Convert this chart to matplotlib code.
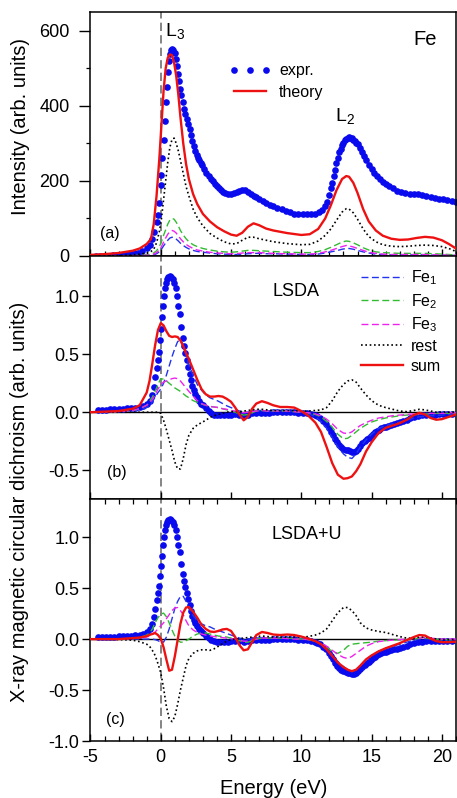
import matplotlib
matplotlib.use("Agg")
import matplotlib.pyplot as plt
from matplotlib.ticker import MultipleLocator

plt.rcParams["font.family"] = ["Liberation Sans", "DejaVu Sans"]
plt.rcParams["mathtext.fontset"] = "custom"
plt.rcParams["mathtext.rm"] = "Liberation Sans"
plt.rcParams["axes.unicode_minus"] = False

# ── (a) XAS: experiment ──
xas_exp_x = [-4.6, -4.3, -4.0, -3.7, -3.4, -3.1, -2.8, -2.5, -2.2, -1.9, -1.6, -1.3, -1.0, -0.8, -0.6,
             -0.45, -0.3, -0.2, -0.1, 0.0, 0.05, 0.12, 0.2, 0.28, 0.35, 0.42, 0.5, 0.58, 0.66, 0.74,
             0.82, 0.9, 0.98, 1.06, 1.14, 1.22, 1.3, 1.38, 1.46, 1.55, 1.65, 1.75, 1.85, 1.95, 2.05,
             2.15, 2.25, 2.35, 2.45, 2.55, 2.65, 2.75, 2.85, 2.95, 3.1, 3.25, 3.4, 3.55, 3.7, 3.85,
             4.0, 4.15, 4.3, 4.45, 4.6, 4.8, 5.0, 5.2, 5.4, 5.6, 5.8, 6.0, 6.2, 6.4, 6.6,
             6.8, 7.0, 7.25, 7.5, 7.75, 8.0, 8.3, 8.6, 8.9, 9.2, 9.5, 9.8, 10.1, 10.4, 10.7,
             11.0, 11.25, 11.5, 11.7, 11.85, 12.0, 12.1, 12.2, 12.3, 12.4, 12.5, 12.6, 12.7, 12.8, 12.9,
             13.0, 13.1, 13.2, 13.3, 13.4, 13.5, 13.6, 13.7, 13.8, 13.9, 14.0, 14.15, 14.3, 14.45, 14.6,
             14.8, 15.0, 15.2, 15.4, 15.6, 15.8, 16.0, 16.25, 16.5, 16.8, 17.1, 17.4, 17.7, 18.0, 18.3,
             18.6, 18.9, 19.2, 19.5, 19.8, 20.1, 20.4, 20.7, 21.0]
xas_exp_y = [0, 0, 1, 1, 2, 3, 3, 4, 5, 7, 9, 13, 20, 30, 45,
             65, 90, 110, 140, 190, 215, 260, 310, 360, 410, 450, 490, 520, 538, 548,
             552, 548, 540, 525, 505, 485, 465, 445, 428, 410, 392, 378, 365, 352, 338,
             322, 306, 292, 280, 270, 262, 255, 248, 242, 233, 222, 214, 206, 199, 192,
             187, 180, 175, 171, 167, 164, 164, 167, 171, 174, 176, 175, 171, 166, 161,
             157, 152, 147, 141, 137, 133, 128, 124, 119, 116, 113, 112, 112, 112, 112,
             113, 116, 122, 132, 145, 162, 180, 195, 212, 230, 248, 262, 276, 286, 295,
             302, 308, 312, 315, 316, 315, 313, 310, 306, 302, 297, 288, 278, 266, 256,
             243, 232, 222, 213, 205, 198, 192, 186, 180, 174, 170, 167, 166, 165, 164,
             162, 159, 157, 155, 153, 151, 149, 147, 145]

# ── (a) XAS: theory ──
xas_th_x = [-5, -4, -3, -2, -1.5, -1.0, -0.7, -0.5, -0.3, -0.1, 0.05, 0.2, 0.35, 0.5, 0.65,
            0.8, 0.95, 1.1, 1.25, 1.4, 1.6, 1.8, 2.0, 2.3, 2.6, 3.0, 3.5, 4.0, 4.5, 5.0,
            5.4, 5.8, 6.2, 6.6, 7.0, 7.5, 8.0, 9.0, 10.0, 10.6, 11.2, 11.7, 12.1, 12.5, 12.9,
            13.2, 13.4, 13.7, 14.0, 14.4, 14.8, 15.3, 15.8, 16.4, 17.0, 17.6, 18.2, 18.8, 19.4, 20.0,
            20.5, 21.0]
xas_sum = [3, 5, 8, 14, 20, 32, 45, 85, 160, 260, 350, 440, 500, 528, 537,
           535, 515, 480, 430, 370, 300, 245, 205, 165, 138, 112, 92, 77, 66, 57,
           54, 62, 78, 87, 82, 73, 68, 61, 56, 58, 72, 100, 135, 175, 205,
           213, 211, 195, 168, 125, 92, 68, 54, 46, 43, 44, 48, 51, 49, 42,
           32, 20]
xas_rest = [0, 0, 1, 3, 5, 8, 12, 18, 35, 65, 100, 150, 200, 250, 290,
            310, 314, 300, 280, 255, 220, 185, 160, 125, 102, 80, 60, 48, 38, 32,
            33, 42, 50, 50, 46, 42, 38, 33, 30, 31, 40, 55, 72, 95, 117,
            126, 125, 115, 98, 72, 52, 38, 30, 26, 25, 26, 28, 29, 28, 25,
            20, 12]
xas_fe2 = [0, 0, 0, 1, 2, 3, 5, 8, 14, 25, 38, 55, 70, 85, 96,
           100, 98, 90, 80, 68, 56, 46, 38, 30, 25, 20, 16, 13, 11, 10,
           11, 13, 15, 15, 14, 13, 12, 10, 9, 9, 12, 17, 23, 30, 37,
           40, 39, 35, 30, 22, 16, 11, 9, 8, 7, 7, 7, 7, 6, 5,
           4, 3]
xas_fe3 = [0, 0, 0, 1, 1, 2, 3, 5, 9, 16, 25, 37, 48, 58, 65,
           68, 66, 61, 54, 46, 38, 31, 26, 20, 16, 13, 10, 8, 7, 6,
           6, 8, 9, 9, 9, 8, 7, 6, 5, 5, 7, 11, 15, 20, 25,
           28, 27, 24, 20, 15, 10, 7, 5, 4, 4, 4, 4, 4, 3, 3,
           2, 2]
xas_fe1 = [0, 0, 0, 0, 1, 1, 2, 3, 6, 11, 18, 27, 35, 42, 48,
           50, 49, 45, 40, 34, 28, 23, 19, 15, 12, 10, 8, 6, 5, 4,
           4, 5, 6, 7, 7, 6, 6, 5, 4, 4, 5, 8, 11, 14, 18,
           20, 20, 18, 15, 11, 8, 5, 4, 3, 3, 3, 3, 3, 2, 2,
           2, 1]

# ── (b),(c) XMCD: experiment ──
mcd_exp_x = [-4.5, -4.2, -3.9, -3.6, -3.3, -3.0, -2.7, -2.4, -2.1, -1.8, -1.5, -1.25, -1.0, -0.8, -0.65,
             -0.5, -0.4, -0.3, -0.2, -0.12, -0.05, 0.02, 0.08, 0.14, 0.2, 0.27, 0.35, 0.45, 0.55, 0.65,
             0.75, 0.85, 0.95, 1.05, 1.15, 1.25, 1.35, 1.45, 1.55, 1.65, 1.75, 1.85, 1.95, 2.05, 2.15,
             2.25, 2.35, 2.45, 2.55, 2.7, 2.85, 3.0, 3.2, 3.4, 3.6, 3.8, 4.0, 4.25, 4.5, 4.75,
             5.0, 5.3, 5.6, 5.9, 6.2, 6.5, 6.8, 7.1, 7.4, 7.7, 8.0, 8.3, 8.6, 8.9, 9.2,
             9.5, 9.8, 10.1, 10.4, 10.7, 10.95, 11.15, 11.35, 11.55, 11.75, 11.95, 12.1, 12.25, 12.4, 12.55,
             12.7, 12.85, 13.0, 13.15, 13.3, 13.45, 13.6, 13.75, 13.9, 14.05, 14.2, 14.35, 14.5, 14.65, 14.8,
             14.95, 15.1, 15.25, 15.4, 15.55, 15.7, 15.85, 16.0, 16.2, 16.4, 16.6, 16.8, 17.0, 17.25, 17.5,
             17.75, 18.0, 18.3, 18.6, 18.9, 19.2, 19.5, 19.8, 20.1, 20.4, 20.7]
mcd_exp_y = [0.02, 0.02, 0.02, 0.025, 0.025, 0.03, 0.03, 0.035, 0.035, 0.04, 0.045, 0.055, 0.07, 0.1, 0.15,
             0.22, 0.3, 0.38, 0.45, 0.52, 0.62, 0.72, 0.82, 0.92, 1.0, 1.07, 1.12, 1.15, 1.17, 1.175,
             1.17, 1.15, 1.12, 1.07, 1.0, 0.92, 0.85, 0.74, 0.64, 0.57, 0.51, 0.45, 0.39, 0.33, 0.28,
             0.23, 0.19, 0.16, 0.13, 0.1, 0.075, 0.06, 0.035, 0.01, -0.01, -0.02, -0.025, -0.025, -0.025, -0.025,
             -0.02, -0.015, -0.02, -0.025, -0.02, -0.01, -0.01, -0.01, -0.005, -0.005, 0.0, 0.0, 0.0, 0.0, 0.0,
             0.0, -0.005, -0.005, -0.01, -0.015, -0.025, -0.035, -0.05, -0.075, -0.1, -0.14, -0.17, -0.2, -0.23, -0.26,
             -0.28, -0.3, -0.315, -0.325, -0.33, -0.335, -0.34, -0.34, -0.335, -0.315, -0.29, -0.27, -0.25, -0.235, -0.22,
             -0.205, -0.19, -0.175, -0.16, -0.15, -0.14, -0.13, -0.125, -0.115, -0.11, -0.1, -0.095, -0.085, -0.075, -0.065,
             -0.05, -0.04, -0.03, -0.025, -0.02, -0.02, -0.02, -0.015, -0.015, -0.015, -0.015]

# ── (b),(c) XMCD: theory grid ──
mcd_th_x = [-5, -3, -2, -1.5, -1.0, -0.8, -0.6, -0.4, -0.2, 0.0, 0.2, 0.4, 0.6, 0.8, 1.0,
            1.2, 1.4, 1.6, 1.8, 2.0, 2.3, 2.6, 2.9, 3.2, 3.5, 3.8, 4.1, 4.4, 4.7, 5.0,
            5.3, 5.6, 5.9, 6.2, 6.5, 6.8, 7.2, 7.6, 8.0, 8.5, 9.0, 9.5, 10.0, 10.5, 11.0,
            11.4, 11.8, 12.2, 12.6, 13.0, 13.3, 13.6, 13.9, 14.2, 14.6, 15.0, 15.5, 16.0, 16.5, 17.0,
            17.5, 18.0, 18.4, 18.8, 19.2, 19.6, 20.0, 20.5, 21.0]

# (b) LSDA
lsda_sum = [0.0, 0.01, 0.03, 0.06, 0.17, 0.27, 0.42, 0.58, 0.71, 0.77, 0.75, 0.70, 0.66, 0.65, 0.655,
            0.65, 0.62, 0.57, 0.51, 0.46, 0.37, 0.28, 0.2, 0.155, 0.135, 0.135, 0.14, 0.135, 0.115, 0.09,
            0.04, -0.02, -0.07, -0.04, 0.03, 0.075, 0.095, 0.08, 0.06, 0.045, 0.045, 0.04, 0.01, -0.03, -0.09,
            -0.17, -0.3, -0.44, -0.54, -0.575, -0.57, -0.555, -0.51, -0.45, -0.34, -0.26, -0.18, -0.135, -0.115, -0.095,
            -0.065, -0.025, -0.005, -0.02, -0.05, -0.065, -0.06, -0.04, -0.02]
lsda_fe1 = [0, 0.005, 0.01, 0.02, 0.04, 0.06, 0.09, 0.13, 0.17, 0.2, 0.25, 0.32, 0.4, 0.48, 0.55,
            0.61, 0.63, 0.58, 0.49, 0.41, 0.32, 0.24, 0.19, 0.15, 0.125, 0.11, 0.095, 0.075, 0.055, 0.04,
            0.025, 0.01, 0.0, 0.0, 0.01, 0.015, 0.015, 0.01, 0.01, 0.01, 0.01, 0.005, 0.0, -0.01, -0.04,
            -0.08, -0.14, -0.22, -0.3, -0.36, -0.39, -0.4, -0.36, -0.3, -0.24, -0.19, -0.14, -0.115, -0.1, -0.085,
            -0.07, -0.05, -0.04, -0.035, -0.03, -0.03, -0.025, -0.02, -0.02]
lsda_fe2 = [0, 0.005, 0.015, 0.03, 0.06, 0.09, 0.13, 0.18, 0.24, 0.29, 0.285, 0.27, 0.25, 0.23, 0.21,
            0.195, 0.18, 0.16, 0.14, 0.125, 0.1, 0.085, 0.07, 0.06, 0.05, 0.045, 0.04, 0.03, 0.02, 0.01,
            0.0, -0.015, -0.025, -0.02, -0.005, 0.01, 0.015, 0.01, 0.01, 0.01, 0.01, 0.005, 0.0, -0.005, -0.02,
            -0.04, -0.08, -0.13, -0.19, -0.23, -0.225, -0.2, -0.17, -0.14, -0.11, -0.085, -0.065, -0.05, -0.04, -0.03,
            -0.025, -0.02, -0.02, -0.015, -0.015, -0.01, -0.01, -0.01, -0.01]
lsda_fe3 = [0, 0.005, 0.015, 0.03, 0.06, 0.08, 0.11, 0.15, 0.2, 0.24, 0.26, 0.27, 0.28, 0.29, 0.295,
            0.29, 0.27, 0.24, 0.21, 0.18, 0.14, 0.1, 0.075, 0.06, 0.05, 0.045, 0.04, 0.03, 0.025, 0.015,
            0.01, 0.0, -0.005, 0.0, 0.005, 0.01, 0.015, 0.01, 0.01, 0.01, 0.01, 0.005, 0.0, -0.005, -0.015,
            -0.03, -0.06, -0.1, -0.15, -0.18, -0.185, -0.17, -0.14, -0.115, -0.09, -0.07, -0.05, -0.04, -0.03, -0.025,
            -0.02, -0.015, -0.015, -0.01, -0.01, -0.01, -0.01, -0.005, -0.005]
lsda_rest = [0, 0, 0, 0, 0, 0, 0, 0, 0.0, -0.01, -0.07, -0.15, -0.24, -0.33, -0.43,
             -0.49, -0.49, -0.4, -0.28, -0.2, -0.14, -0.11, -0.09, -0.07, -0.045, -0.03, -0.02, -0.01, 0.0, 0.005,
             0.005, 0.005, 0.01, 0.015, 0.02, 0.025, 0.025, 0.02, 0.015, 0.015, 0.015, 0.015, 0.01, 0.01, 0.015,
             0.02, 0.04, 0.1, 0.18, 0.24, 0.27, 0.28, 0.26, 0.21, 0.15, 0.1, 0.06, 0.04, 0.025, 0.01,
             0.005, 0.015, 0.025, 0.02, 0.01, 0.0, 0.0, 0.0, 0.0]

# (c) LSDA+U
ldau_sum = [0.0, 0.0, 0.01, 0.015, 0.03, 0.042, 0.05, 0.06, 0.04, 0.005, -0.08, -0.2, -0.31, -0.3, -0.17,
            -0.01, 0.15, 0.26, 0.31, 0.315, 0.27, 0.21, 0.14, 0.1, 0.075, 0.07, 0.08, 0.095, 0.1, 0.08,
            0.02, -0.06, -0.11, -0.1, -0.03, 0.04, 0.07, 0.06, 0.045, 0.04, 0.045, 0.04, 0.025, 0.005, -0.02,
            -0.05, -0.1, -0.165, -0.23, -0.275, -0.3, -0.315, -0.3, -0.26, -0.2, -0.16, -0.12, -0.09, -0.065, -0.04,
            -0.01, 0.02, 0.04, 0.035, 0.005, -0.02, -0.03, -0.03, -0.025]
ldau_fe1 = [0, 0, 0, 0, 0, 0, 0.0, -0.005, -0.015, -0.03, -0.03, 0.02, 0.1, 0.2, 0.3,
            0.37, 0.42, 0.42, 0.37, 0.3, 0.23, 0.18, 0.15, 0.13, 0.12, 0.1, 0.085, 0.07, 0.055, 0.04,
            0.025, 0.01, 0.0, 0.0, 0.005, 0.01, 0.015, 0.01, 0.01, 0.01, 0.01, 0.01, 0.005, 0.0, -0.02,
            -0.05, -0.09, -0.15, -0.22, -0.27, -0.3, -0.32, -0.3, -0.26, -0.2, -0.16, -0.12, -0.09, -0.07, -0.05,
            -0.03, -0.01, 0.0, 0.005, 0.0, -0.01, -0.015, -0.015, -0.015]
ldau_fe2 = [0, 0.0, 0.005, 0.015, 0.04, 0.06, 0.1, 0.16, 0.21, 0.245, 0.255, 0.22, 0.16, 0.09, 0.03,
            -0.01, -0.03, -0.03, -0.015, 0.0, 0.03, 0.05, 0.06, 0.06, 0.05, 0.04, 0.03, 0.025, 0.02, 0.01,
            0.0, -0.015, -0.03, -0.03, -0.015, 0.0, 0.01, 0.01, 0.01, 0.01, 0.01, 0.005, 0.0, -0.005, -0.02,
            -0.05, -0.08, -0.12, -0.14, -0.11, -0.07, -0.05, -0.045, -0.04, -0.035, -0.03, -0.02, -0.015, -0.01, -0.008,
            -0.005, 0.0, 0.01, 0.01, 0.005, 0.0, -0.005, -0.005, -0.005]
ldau_fe3 = [0, 0.0, 0.005, 0.01, 0.02, 0.03, 0.045, 0.07, 0.1, 0.13, 0.16, 0.2, 0.24, 0.28, 0.305,
            0.31, 0.28, 0.24, 0.18, 0.13, 0.09, 0.065, 0.05, 0.04, 0.03, 0.025, 0.02, 0.015, 0.01, 0.005,
            0.0, -0.01, -0.02, -0.02, -0.01, 0.0, 0.01, 0.01, 0.01, 0.01, 0.005, 0.0, 0.0, -0.005, -0.02,
            -0.04, -0.07, -0.11, -0.15, -0.18, -0.19, -0.17, -0.14, -0.11, -0.07, -0.045, -0.025, -0.015, -0.01, -0.005,
            0.0, 0.005, 0.01, 0.015, 0.01, 0.005, 0.0, 0.0, 0.0]
ldau_rest = [0, -0.005, -0.01, -0.025, -0.05, -0.07, -0.11, -0.16, -0.24, -0.33, -0.48, -0.66, -0.78, -0.81, -0.76,
             -0.64, -0.5, -0.38, -0.26, -0.19, -0.14, -0.115, -0.105, -0.105, -0.11, -0.095, -0.07, -0.045, -0.02, -0.005,
             0.0, 0.005, 0.01, 0.015, 0.02, 0.025, 0.03, 0.025, 0.02, 0.02, 0.02, 0.02, 0.02, 0.025, 0.04,
             0.06, 0.1, 0.18, 0.26, 0.31, 0.31, 0.28, 0.23, 0.16, 0.11, 0.09, 0.075, 0.065, 0.045, 0.025,
             0.01, 0.01, 0.02, 0.02, 0.01, 0.0, -0.005, -0.005, -0.005]

BLUE = "#0a0aee"
RED = "#ee1111"
GREEN = "#33bb33"
MAGENTA = "#ee22ee"
DBLUE = "#2233ee"

fig = plt.figure(figsize=(4.57, 7.98), dpi=100)
ax_a = fig.add_axes([0.198, 0.6792, 0.7996, 0.3058])
ax_b = fig.add_axes([0.198, 0.3747, 0.7996, 0.3045])
ax_c = fig.add_axes([0.198, 0.0714, 0.7996, 0.3033])

for ax in (ax_a, ax_b, ax_c):
    ax.set_xlim(-5, 21)
    ax.xaxis.set_major_locator(MultipleLocator(5))
    ax.xaxis.set_minor_locator(MultipleLocator(1))
    ax.tick_params(axis="x", which="major", direction="in", length=5, width=1, labelsize=13, pad=6)
    ax.tick_params(axis="x", which="minor", direction="in", length=3.5, width=0.9)
    ax.tick_params(axis="y", which="major", direction="out", length=6, width=1, labelsize=13, pad=2)
    ax.tick_params(axis="y", which="minor", direction="out", length=3, width=0.9)
    for sp in ax.spines.values():
        sp.set_linewidth(1.1)
    ax.axvline(0, color="#707070", ls=(0, (5, 2.5)), lw=1.2, zorder=1)

def draw_lines(ax, x, fe1, fe2, fe3, rest, total):
    ax.plot(x, fe1, color=DBLUE, ls=(0, (5, 2.5)), lw=1.0, zorder=3, label="Fe$_1$")
    ax.plot(x, fe2, color=GREEN, ls=(0, (5, 2.5)), lw=1.0, zorder=3, label="Fe$_2$")
    ax.plot(x, fe3, color=MAGENTA, ls=(0, (5, 2.5)), lw=1.0, zorder=3, label="Fe$_3$")
    ax.plot(x, rest, color="black", ls=(0, (1, 1.6)), lw=1.2, zorder=3, label="rest")
    ax.plot(x, total, color=RED, lw=1.7, zorder=4, label="sum")

# ── (a) ──
ax_a.plot(xas_exp_x, xas_exp_y, "o", color=BLUE, ms=4.8, mec="none", zorder=2, label="expr.")
draw_lines(ax_a, xas_th_x, xas_fe1, xas_fe2, xas_fe3, xas_rest, xas_sum)
ax_a.set_ylim(0, 650)
ax_a.yaxis.set_major_locator(MultipleLocator(200))
ax_a.yaxis.set_minor_locator(MultipleLocator(100))
ax_a.tick_params(axis="y", which="major", length=8, pad=7)
ax_a.tick_params(labelbottom=False)
h, l = ax_a.get_legend_handles_labels()
ax_a.legend([h[0], h[-1]], ["expr.", "theory"], loc="upper left", bbox_to_anchor=(0.35, 0.835),
            frameon=False, fontsize=11.5, numpoints=3, handlelength=2.6, handletextpad=0.5,
            labelspacing=0.4, borderpad=0.2)
ax_a.text(1.0, 597, "L$_3$", fontsize=14, ha="center", va="center")
ax_a.text(13.1, 371, "L$_2$", fontsize=14, ha="center", va="center")
ax_a.text(18.8, 576, "Fe", fontsize=14.5, ha="center", va="center")
ax_a.text(-3.6, 61, "(a)", fontsize=11.5, ha="center", va="center")

# ── (b) ──
ax_b.axhline(0, color="black", lw=1.0, zorder=1)
ax_b.plot(mcd_exp_x, mcd_exp_y, "o", color=BLUE, ms=4.8, mec="none", zorder=2)
draw_lines(ax_b, mcd_th_x, lsda_fe1, lsda_fe2, lsda_fe3, lsda_rest, lsda_sum)
ax_b.set_ylim(-0.75, 1.35)
ax_b.yaxis.set_major_locator(MultipleLocator(0.5))
ax_b.tick_params(labelbottom=False)
ax_b.tick_params(axis="x", which="minor", bottom=False)
ax_b.legend(loc="upper left", bbox_to_anchor=(0.71, 0.995), frameon=False, fontsize=11.5,
            handlelength=2.6, handletextpad=0.5, labelspacing=0.3, borderpad=0.2)
ax_b.text(9.65, 1.04, "LSDA", fontsize=13, ha="center", va="center")
ax_b.text(-3.1, -0.52, "(b)", fontsize=11.5, ha="center", va="center")

# ── (c) ──
ax_c.axhline(0, color="black", lw=1.0, zorder=1)
ax_c.plot(mcd_exp_x, mcd_exp_y, "o", color=BLUE, ms=4.8, mec="none", zorder=2)
draw_lines(ax_c, mcd_th_x, ldau_fe1, ldau_fe2, ldau_fe3, ldau_rest, ldau_sum)
ax_c.set_ylim(-1.0, 1.375)
ax_c.yaxis.set_major_locator(MultipleLocator(0.5))
ax_c.tick_params(axis="x", which="minor", top=True)
ax_c.text(10.4, 1.03, "LSDA+U", fontsize=13, ha="center", va="center")
ax_c.text(-3.2, -0.79, "(c)", fontsize=11.5, ha="center", va="center")

fig.text(0.045, 0.841, "Intensity (arb. units)", rotation=90, ha="center", va="center", fontsize=14.5)
fig.text(0.043, 0.371, "X-ray magnetic circular dichroism (arb. units)", rotation=90,
         ha="center", va="center", fontsize=14.5)
fig.text(0.599, 0.012, "Energy (eV)", ha="center", va="center", fontsize=14.5)

fig.savefig("out.png", dpi=100)
